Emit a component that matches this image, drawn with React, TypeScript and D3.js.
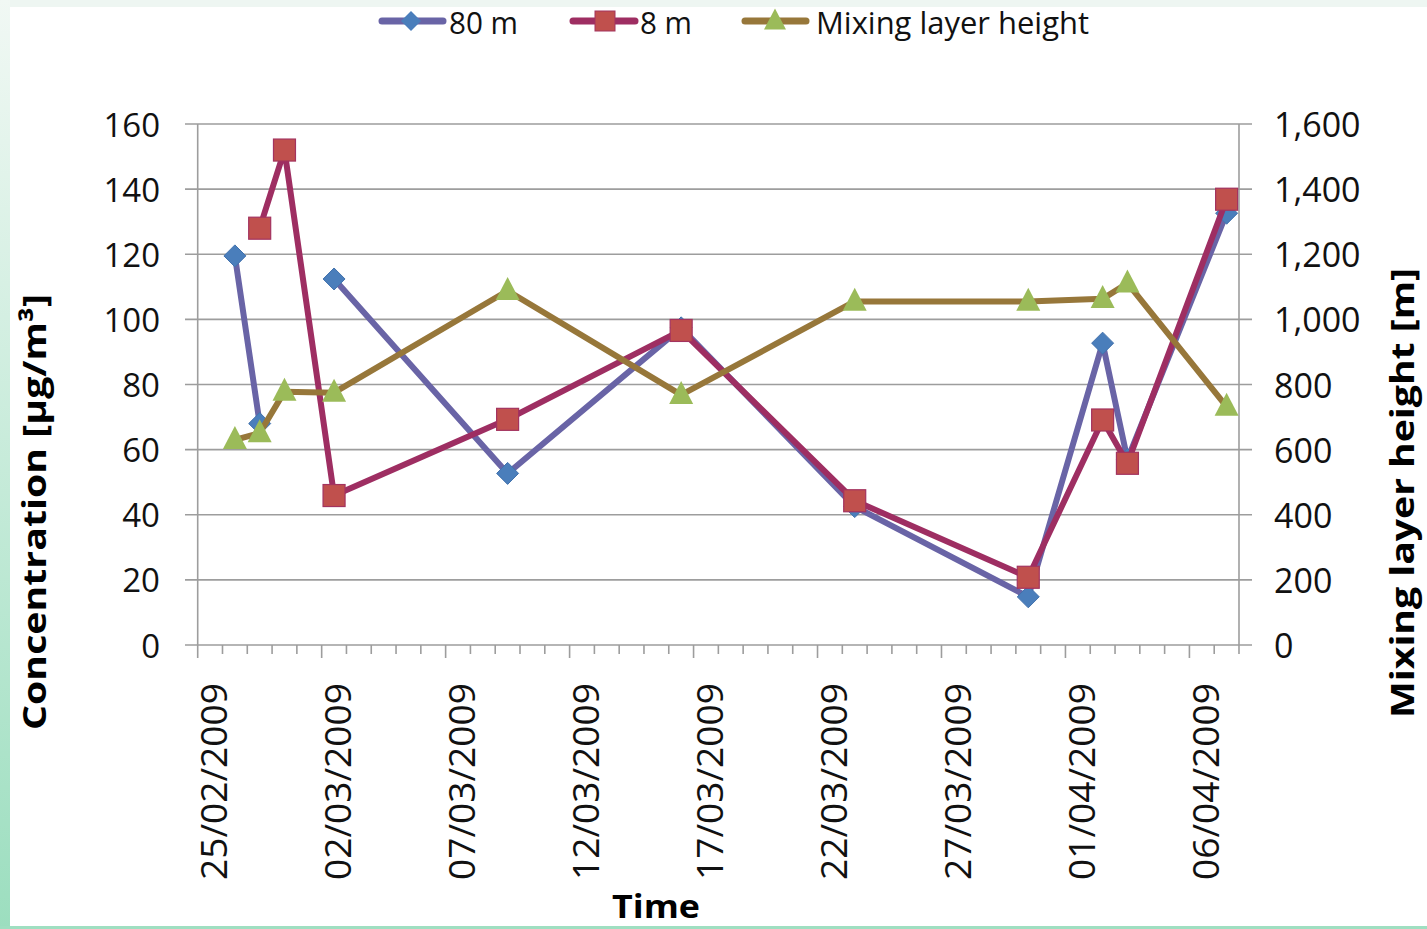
import React from "react";
import * as d3 from "d3";

// ---- data ----
const sampleDates = [
  "2009-02-26", "2009-02-27", "2009-02-28", "2009-03-02", "2009-03-09",
  "2009-03-16", "2009-03-23", "2009-03-30", "2009-04-02", "2009-04-03", "2009-04-07",
];
const conc80m: (number | null)[] = [119.5, 68, null, 112.4, 52.7, 97.4, 42.5, 14.8, 92.7, 57, 132.6];
const conc8m: (number | null)[] = [null, 128, 152, 45.9, 69.3, 96.6, 44.3, 20.8, 69.1, 55.8, 136.9];
const mixingHeight: (number | null)[] = [630, 651, 778, 775, 1088, 768, 1055, 1055, 1063, 1111, 732];

const leftTicks = [0, 20, 40, 60, 80, 100, 120, 140, 160];
const rightTicks = [0, 200, 400, 600, 800, 1000, 1200, 1400, 1600];
const axisStartDate = "2009-02-25";
const axisEndDate = "2009-04-08";
const labelEveryDays = 5;

const seriesNames = ["80 m", "8 m", "Mixing layer height"];
const leftTitle = "Concentration [µg/m³]";
const rightTitle = "Mixing layer height [m]";
const xTitle = "Time";

// ---- layout ----
const W = 1427, H = 929;
const PL = 197.7, PR = 1239, PT = 124, PB = 645;
const FONT = "'Open Sans', 'DejaVu Sans', sans-serif";

const C80line = "#6964A6", C80mark = "#4A7EBB";
const C8line = "#9E2E62", C8mark = "#C0504D";
const CMline = "#97773A", CMmark = "#9BBB59";
const GRID = "#9d9d9d";

export default function App() {
  const parse = d3.timeParse("%Y-%m-%d");
  const fmt = d3.timeFormat("%d/%m/%Y");
  const start = parse(axisStartDate)!;
  const end = parse(axisEndDate)!;
  const nDays = d3.timeDay.count(start, end);

  const x = d3.scaleLinear().domain([0, nDays]).range([PL, PR]);
  const yL = d3.scaleLinear().domain([0, 160]).range([PB, PT]);
  const yR = d3.scaleLinear().domain([0, 1600]).range([PB, PT]);

  const dayPos = sampleDates.map((s) => d3.timeDay.count(start, parse(s)!) + 0.5);

  const mk = (vals: (number | null)[], y: d3.ScaleLinear<number, number>) =>
    vals.map((v, i) => ({ x: x(dayPos[i]), y: v == null ? NaN : y(v), ok: v != null }));

  const p80 = mk(conc80m, yL);
  const p8 = mk(conc8m, yL);
  const pM = mk(mixingHeight, yR);

  const line = d3
    .line<{ x: number; y: number; ok: boolean }>()
    .defined((d) => d.ok)
    .x((d) => d.x)
    .y((d) => d.y);

  const dayTicks = d3.range(0, nDays + 1);

  const diamond = (cx: number, cy: number, r: number) =>
    `M${cx},${cy - r}L${cx + r},${cy}L${cx},${cy + r}L${cx - r},${cy}Z`;
  const tri = (cx: number, cy: number, w: number, h: number) =>
    `M${cx},${cy - h * 0.6}L${cx + w / 2},${cy + h * 0.4}L${cx - w / 2},${cy + h * 0.4}Z`;

  const legendY = 21;
  const legendBase = 34;

  return (
    <div style={{ position: "absolute", left: 0, top: 0 }}>
      <svg width={W} height={H} style={{ display: "block" }}>
        <defs>
          <linearGradient id="leftStrip" x1="0" y1="0" x2="0" y2="1">
            <stop offset="0" stopColor="#f1f8f4" />
            <stop offset="1" stopColor="#9cdebf" />
          </linearGradient>
        </defs>
        <rect x={0} y={0} width={W} height={H} fill="#ffffff" />
        <rect x={0} y={0} width={W} height={7} fill="#eef6f2" />
        <rect x={0} y={0} width={10} height={H} fill="url(#leftStrip)" />
        <rect x={0} y={926} width={W} height={3} fill="#9fdfc1" />

        {/* gridlines + y ticks */}
        {leftTicks.map((t) => (
          <line key={"g" + t} x1={185} x2={1252} y1={yL(t)} y2={yL(t)} stroke={GRID} strokeWidth={1.6} />
        ))}
        <line x1={PL} x2={PL} y1={PT} y2={PB} stroke={GRID} strokeWidth={1.6} />
        <line x1={PR} x2={PR} y1={PT} y2={PB} stroke={GRID} strokeWidth={1.6} />

        {/* x ticks */}
        {dayTicks.map((k) => (
          <line
            key={"xt" + k}
            x1={x(k)}
            x2={x(k)}
            y1={PB}
            y2={k % labelEveryDays === 0 ? PB + 13 : PB + 9}
            stroke={GRID}
            strokeWidth={1.6}
          />
        ))}

        {/* left tick labels */}
        {leftTicks.map((t) => (
          <text key={"lt" + t} x={160} y={yL(t)} textAnchor="end" dominantBaseline="central"
            fontFamily={FONT} fontSize={33} fill="#111">
            {d3.format("d")(t)}
          </text>
        ))}
        {/* right tick labels */}
        {rightTicks.map((t) => (
          <text key={"rt" + t} x={1274} y={yR(t)} textAnchor="start" dominantBaseline="central"
            fontFamily={FONT} fontSize={34} fill="#111">
            {d3.format(",")(t)}
          </text>
        ))}

        {/* x tick labels */}
        {dayTicks
          .filter((k) => k % labelEveryDays === 0 && k < nDays)
          .map((k) => (
            <text
              key={"xl" + k}
              transform={`translate(${x(k) + 15},683) rotate(-90)`}
              textAnchor="end"
              dominantBaseline="central"
              fontFamily={FONT}
              fontSize={37}
              textLength={197}
              lengthAdjust="spacingAndGlyphs"
              fill="#111"
            >
              {fmt(d3.timeDay.offset(start, k))}
            </text>
          ))}

        {/* axis titles */}
        <text transform="translate(33,512) rotate(-90)" textAnchor="middle" dominantBaseline="central"
          fontFamily={FONT} fontWeight={700} fontSize={33} textLength={436} lengthAdjust="spacingAndGlyphs" fill="#000">
          {leftTitle}
        </text>
        <text transform="translate(1401,493) rotate(-90)" textAnchor="middle" dominantBaseline="central"
          fontFamily={FONT} fontWeight={700} fontSize={32} textLength={450} lengthAdjust="spacingAndGlyphs" fill="#000">
          {rightTitle}
        </text>
        <text x={656} y={918} textAnchor="middle" fontFamily={FONT} fontWeight={700} fontSize={32}
          textLength={88} lengthAdjust="spacingAndGlyphs" fill="#000">
          {xTitle}
        </text>

        {/* series 80 m */}
        <path d={line(p80) || ""} fill="none" stroke={C80line} strokeWidth={6} strokeLinejoin="round" strokeLinecap="round" />
        {p80.filter((d) => d.ok).map((d, i) => (
          <path key={"d80" + i} d={diamond(d.x, d.y, 11)} fill={C80mark} stroke="#4272ad" strokeWidth={1} />
        ))}

        {/* series 8 m */}
        <path d={line(p8) || ""} fill="none" stroke={C8line} strokeWidth={6} strokeLinejoin="round" strokeLinecap="round" />
        {p8.filter((d) => d.ok).map((d, i) => (
          <rect key={"s8" + i} x={d.x - 11} y={d.y - 11} width={22} height={22} fill={C8mark} stroke="#a3335f" strokeWidth={1.2} />
        ))}

        {/* mixing layer height */}
        <path d={line(pM) || ""} fill="none" stroke={CMline} strokeWidth={6} strokeLinejoin="round" strokeLinecap="round" />
        {pM.filter((d) => d.ok).map((d, i) => (
          <path key={"m" + i} d={tri(d.x, d.y, 24, 23)} fill={CMmark} />
        ))}

        {/* legend */}
        <line x1={382} x2={443} y1={legendY} y2={legendY} stroke={C80line} strokeWidth={7} strokeLinecap="round" />
        <path d={diamond(411, legendY, 10)} fill={C80mark} />
        <text x={449} y={legendBase} fontFamily={FONT} fontSize={31} textLength={69} lengthAdjust="spacingAndGlyphs" fill="#111">
          {seriesNames[0]}
        </text>

        <line x1={573} x2={635} y1={legendY} y2={legendY} stroke={C8line} strokeWidth={7} strokeLinecap="round" />
        <rect x={595} y={legendY - 10} width={20} height={20} fill={C8mark} stroke="#a3335f" strokeWidth={1} />
        <text x={640} y={legendBase} fontFamily={FONT} fontSize={31} textLength={52} lengthAdjust="spacingAndGlyphs" fill="#111">
          {seriesNames[1]}
        </text>

        <line x1={745} x2={806} y1={legendY} y2={legendY} stroke={CMline} strokeWidth={7} strokeLinecap="round" />
        <path d={tri(775, legendY, 22, 21)} fill={CMmark} />
        <text x={816} y={legendBase} fontFamily={FONT} fontSize={31} textLength={273} lengthAdjust="spacingAndGlyphs" fill="#111">
          {seriesNames[2]}
        </text>
      </svg>
    </div>
  );
}
